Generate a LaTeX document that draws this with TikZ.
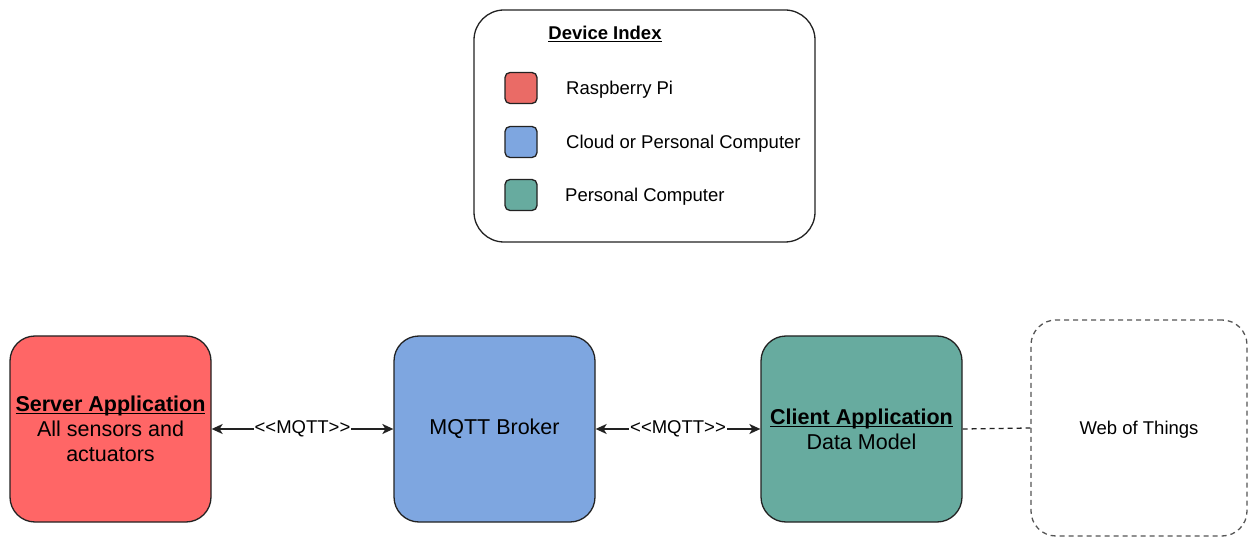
\documentclass[tikz,border=0pt]{standalone}
\usepackage{fontspec}
\setmainfont{Liberation Sans}
\usetikzlibrary{arrows.meta}
\definecolor{piRed}{HTML}{EA6B66}
\definecolor{serverRed}{HTML}{FF6666}
\definecolor{cloudBlue}{HTML}{7EA6E0}
\definecolor{pcGreen}{HTML}{67AB9F}
\definecolor{lineGray}{HTML}{222222}
\definecolor{dashGray}{HTML}{555555}
\newcommand{\mqttstereo}{{<}{<}MQTT{>}{>}}
% underline set close to the baseline
\newcommand{\ulbold}[1]{\setbox0\hbox{\bfseries #1}\rlap{\rule[-2.6pt]{\wd0}{1.1pt}}\box0}
\begin{document}
\begin{tikzpicture}[x=1pt,y=-1pt,
  block/.style={draw=lineGray, line width=1.3pt, rounded corners=25pt, minimum width=201pt, minimum height=186pt, inner sep=0pt, align=center, font=\fontsize{21.5}{25}\selectfont},
  swatch/.style={draw=lineGray, line width=1.3pt, rounded corners=5pt, minimum width=32pt, minimum height=31pt, inner sep=0pt},
  legendtext/.style={anchor=west, inner sep=0pt, font=\fontsize{18.5}{22}\selectfont},
  mqtt/.style={{Stealth[length=11pt,width=10pt,inset=3pt]}-{Stealth[length=11pt,width=10pt,inset=3pt]}, line width=1.5pt, lineGray},
  mqttlabel/.style={fill=white, inner sep=1pt, text=black, font=\fontsize{18.5}{22}\selectfont}
]
\useasboundingbox (0,0) rectangle (1248,537);

% legend
\draw[lineGray, line width=1.3pt, rounded corners=30pt] (474,10) rectangle (815,242);
\node[font=\fontsize{18.5}{22}\selectfont] (title) at (605,34) {\ulbold{Device Index}};
\node[swatch, fill=piRed] (sw1) at (521,88) {};
\node[swatch, fill=cloudBlue] (sw2) at (521,142) {};
\node[swatch, fill=pcGreen] (sw3) at (521,195) {};
\node[legendtext] (lt1) at (566,90) {Raspberry Pi};
\node[legendtext] (lt2) at (566,144) {Cloud or Personal Computer};
\node[legendtext] (lt3) at (565,197) {Personal Computer};

% application blocks
\node[block, fill=serverRed] (server) at (110.5,429) {\ulbold{Server Application}\\All sensors and\\actuators};
\node[block, fill=cloudBlue] (broker) at (494.5,429) {MQTT Broker};
\node[block, fill=pcGreen] (client) at (861.5,429) {\ulbold{Client Application}\\Data Model};
\node[block, draw=dashGray, dashed, dash pattern=on 5pt off 4pt, fill=none, minimum width=216pt, minimum height=216pt, text depth=0pt, font=\fontsize{18.5}{22}\selectfont] (wot) at (1139,428) {Web of Things};

% connectors
\draw[mqtt] (server.east) -- node[mqttlabel] {\mqttstereo} (broker.west);
\draw[mqtt] (broker.east) -- node[mqttlabel] {\mqttstereo} (client.west);
\draw[lineGray, line width=1.3pt, dash pattern=on 5pt off 4pt] (client.east) -- (wot.west);
\end{tikzpicture}
\end{document}
